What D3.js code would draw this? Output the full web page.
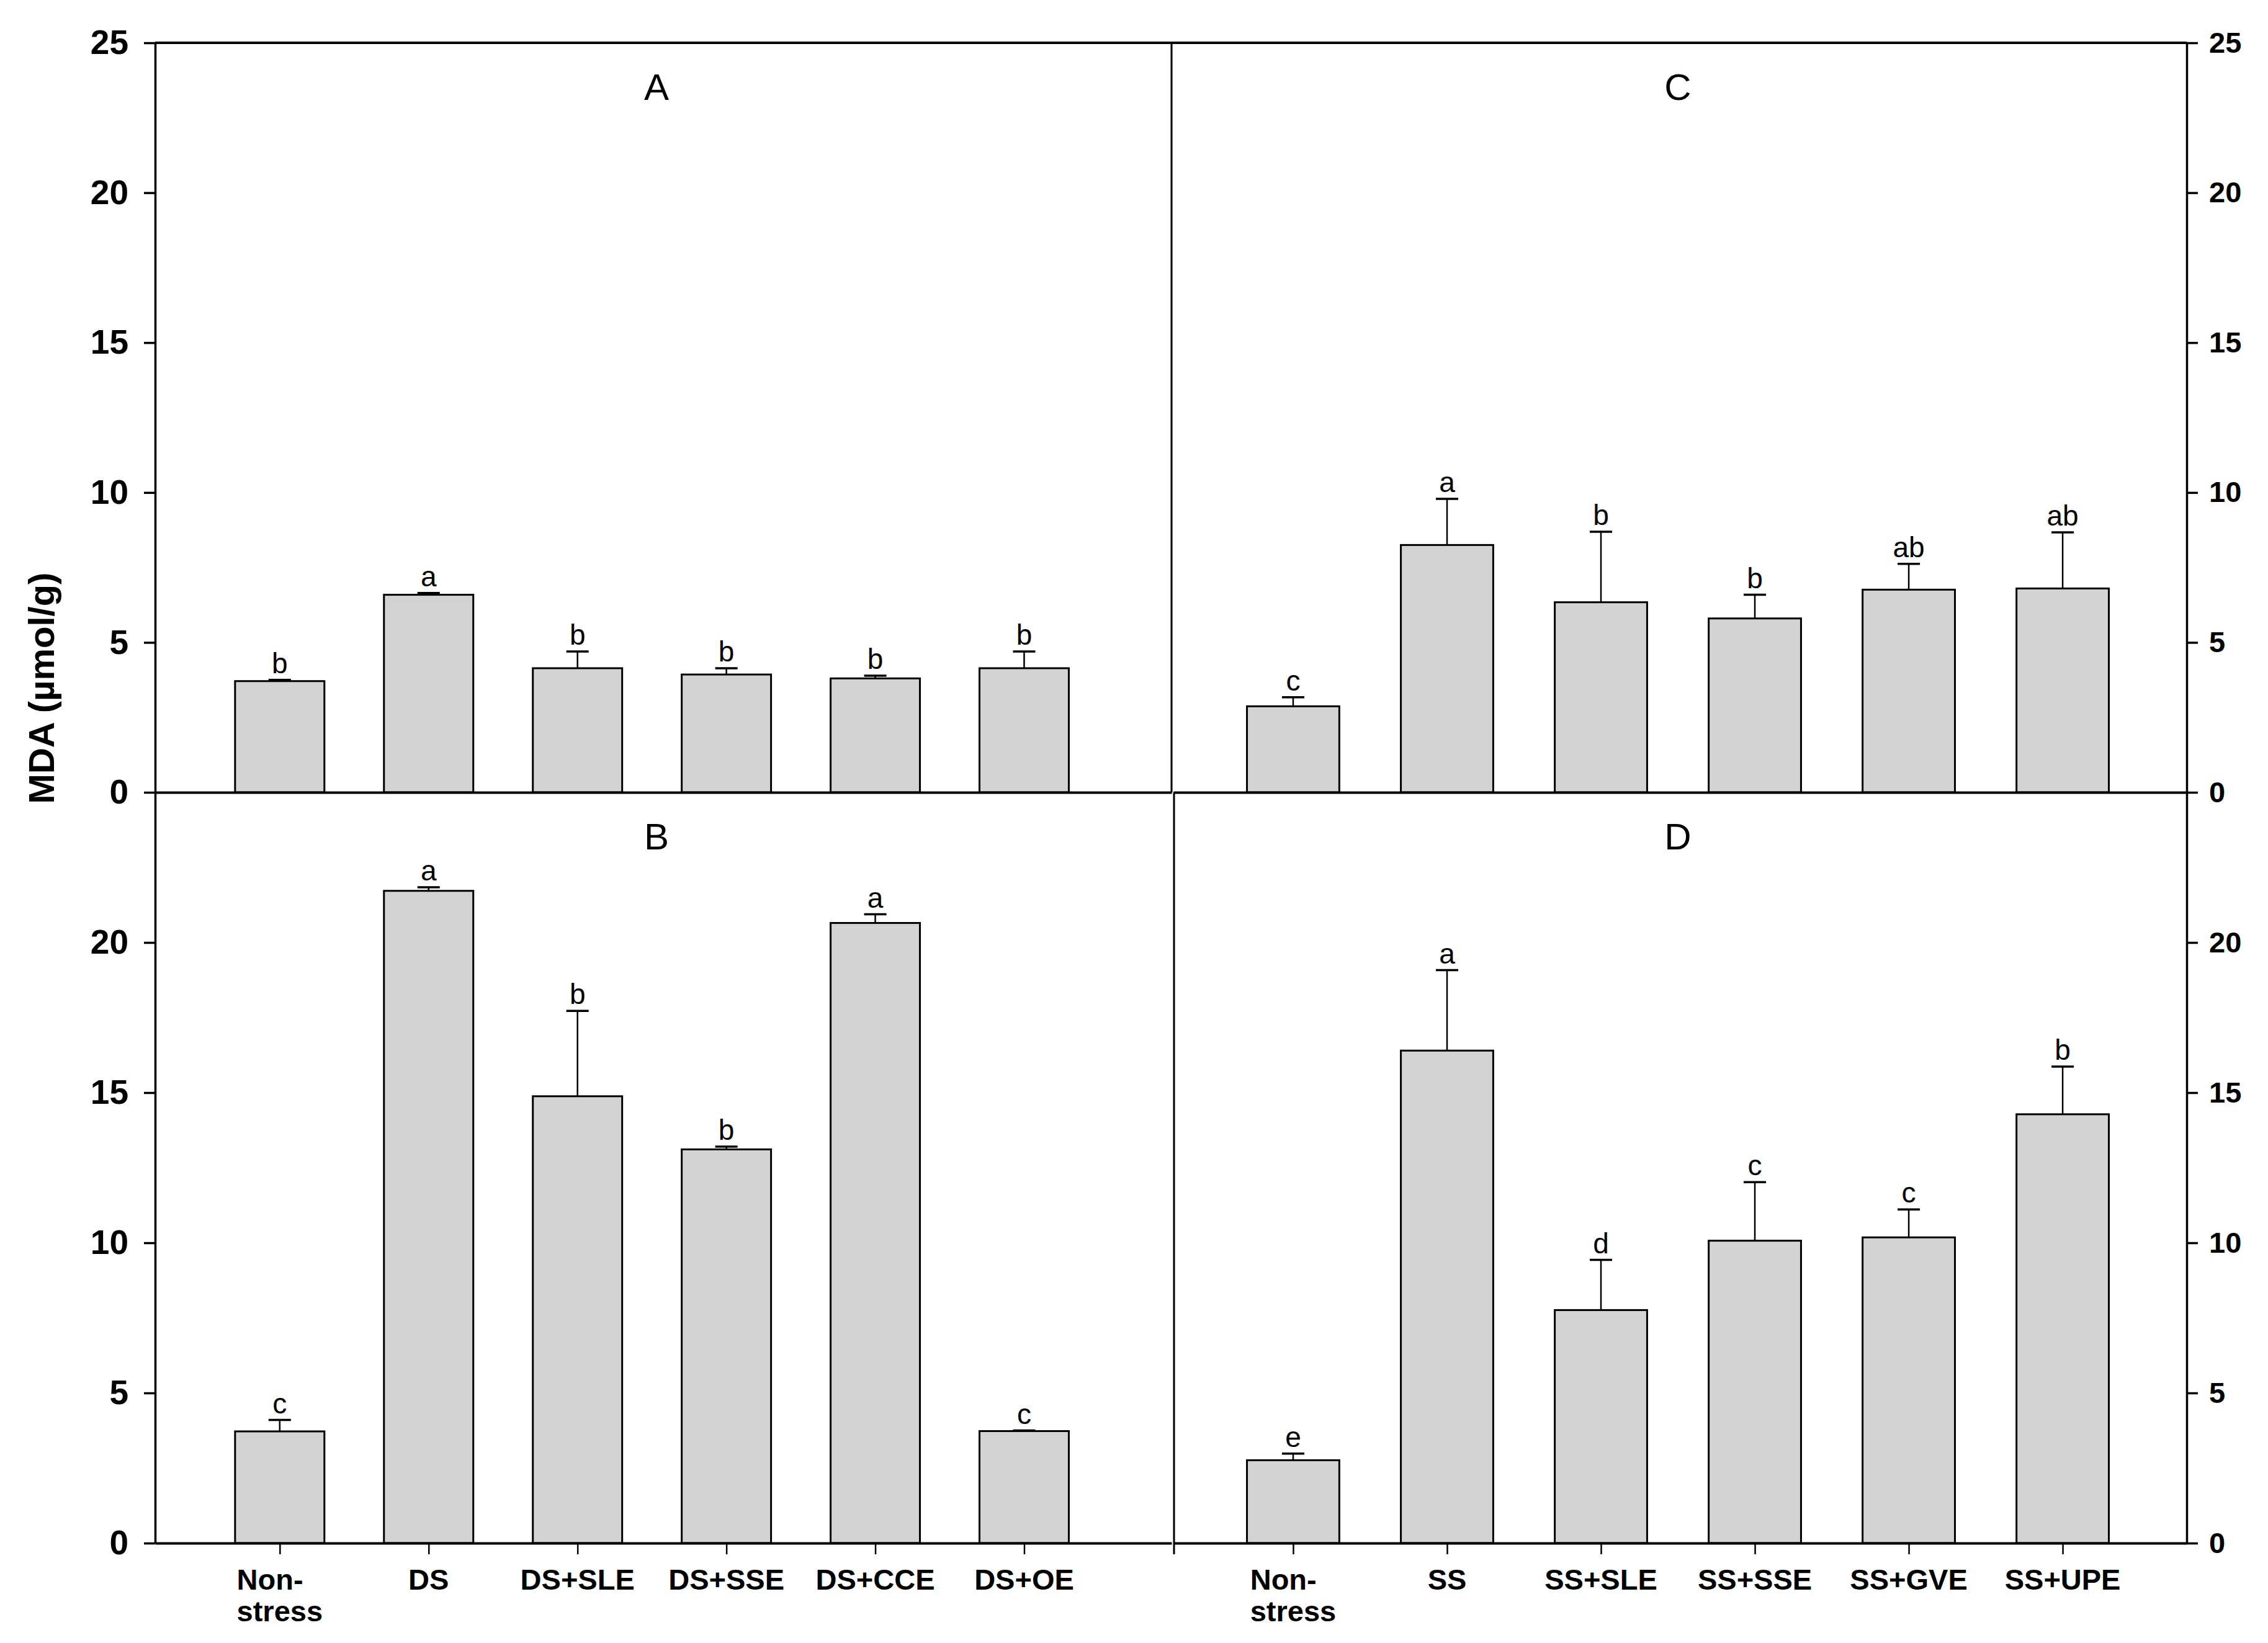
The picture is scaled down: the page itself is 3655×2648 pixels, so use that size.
<!DOCTYPE html>
<html>
<head>
<meta charset="utf-8">
<script src="https://cdn.jsdelivr.net/npm/d3@7"></script>
<style>
  body { margin: 0; background: #fff; }
  text { font-family: "Liberation Sans", Arial, sans-serif; fill: #000; }
</style>
</head>
<body>
<script>
// canvas
var width = 3655;
var height = 2648;

// categories
var catsDS = ["Non-stress", "DS", "DS+SLE", "DS+SSE", "DS+CCE", "DS+OE"];
var catsSS = ["Non-stress", "SS", "SS+SLE", "SS+SSE", "SS+GVE", "SS+UPE"];

// panel A (drought, top left)
var meanA = [3.71, 6.59, 4.14, 3.93, 3.80, 4.14];
var errA  = [0.04, 0.06, 0.56, 0.21, 0.09, 0.56];
var letA  = ["b", "a", "b", "b", "b", "b"];

// panel B (drought, bottom left)
var meanB = [3.72, 21.72, 14.88, 13.11, 20.65, 3.73];
var errB  = [0.38, 0.12, 2.84, 0.09, 0.29, 0.02];
var letB  = ["c", "a", "b", "b", "a", "c"];

// panel C (salt, top right)
var meanC = [2.87, 8.25, 6.34, 5.80, 6.76, 6.80];
var errC  = [0.30, 1.54, 2.35, 0.79, 0.86, 1.87];
var letC  = ["c", "a", "b", "b", "ab", "ab"];

// panel D (salt, bottom right)
var meanD = [2.76, 16.40, 7.76, 10.07, 10.18, 14.28];
var errD  = [0.22, 2.68, 1.67, 1.95, 0.93, 1.59];
var letD  = ["e", "a", "d", "c", "c", "b"];

// axis ticks
var yTicksTop = [0, 5, 10, 15, 20, 25];
var yTicksBottom = [0, 5, 10, 15, 20];
var yTitle = "MDA (\u00b5mol/g)";

var font = '"Liberation Sans", Arial, sans-serif';

var svg = d3.select("body").append("svg")
  .attr("width", width)
  .attr("height", height);

svg.append("rect").attr("width", width).attr("height", height).attr("fill", "#fff");

// layout of the 2x2 grid
var xLeft = 250, xMidL = 1888, xMidR = 1891, xRight = 3524;
var yTop = 69, yMid = 1277, yBottom = 2487;

var panels = [
  {name: "A", cats: catsDS, mean: meanA, err: errA, let: letA, side: "left",  row: "top"},
  {name: "B", cats: catsDS, mean: meanB, err: errB, let: letB, side: "left",  row: "bottom"},
  {name: "C", cats: catsSS, mean: meanC, err: errC, let: letC, side: "right", row: "top"},
  {name: "D", cats: catsSS, mean: meanD, err: errD, let: letD, side: "right", row: "bottom"}
];

panels.forEach(function(p) {
  var x0 = p.side === "left" ? xLeft : xMidR;
  var x1 = p.side === "left" ? xMidL : xRight;
  var y0 = p.row === "top" ? yTop : yMid;
  var y1 = p.row === "top" ? yMid : yBottom;

  // sigmaplot-like x positions 1..6
  var x = d3.scaleLinear()
    .domain(p.side === "left" ? [0.163, 6.99] : [0.222, 6.806])
    .range([x0, x1]);
  var y = d3.scaleLinear().domain([0, 25]).range([y1, y0]);
  var barW = x(1.6) - x(1);

  var g = svg.append("g");
  var data = p.cats.map(function(c, i) {
    return {cat: c, i: i + 1, mean: p.mean[i], err: p.err[i], let: p.let[i]};
  });

  // bars
  g.selectAll("rect.bar").data(data).enter().append("rect")
    .attr("class", "bar")
    .attr("x", function(d) { return x(d.i) - barW / 2; })
    .attr("y", function(d) { return y(d.mean); })
    .attr("width", barW)
    .attr("height", function(d) { return y(0) - y(d.mean); })
    .attr("fill", "#d3d3d3")
    .attr("stroke", "#000")
    .attr("stroke-width", 3);

  // error bars (upper only)
  g.selectAll("line.stem").data(data).enter().append("line")
    .attr("x1", function(d) { return x(d.i); })
    .attr("x2", function(d) { return x(d.i); })
    .attr("y1", function(d) { return y(d.mean); })
    .attr("y2", function(d) { return y(d.mean + d.err); })
    .attr("stroke", "#000").attr("stroke-width", 2.5);
  g.selectAll("line.cap").data(data).enter().append("line")
    .attr("x1", function(d) { return x(d.i) - 18; })
    .attr("x2", function(d) { return x(d.i) + 18; })
    .attr("y1", function(d) { return y(d.mean + d.err); })
    .attr("y2", function(d) { return y(d.mean + d.err); })
    .attr("stroke", "#000").attr("stroke-width", 3.5);

  // significance letters
  g.selectAll("text.sig").data(data).enter().append("text")
    .attr("x", function(d) { return x(d.i); })
    .attr("y", function(d) { return y(d.mean + d.err) - 11; })
    .attr("text-anchor", "middle")
    .style("font-size", "46px")
    .text(function(d) { return d.let; });

  // panel letter
  svg.append("text")
    .attr("x", p.side === "left" ? 1058 : 2704)
    .attr("y", y0 + 92)
    .attr("text-anchor", "middle")
    .style("font-size", "60px")
    .text(p.name);

  // y axis on the outer side
  var ticks = p.row === "top" ? yTicksTop : yTicksBottom;
  var yAxis = (p.side === "left" ? d3.axisLeft(y) : d3.axisRight(y))
    .tickValues(ticks)
    .tickSize(18)
    .tickSizeOuter(0)
    .tickPadding(p.side === "left" ? 25 : 18)
    .tickFormat(d3.format("d"));
  var ya = svg.append("g")
    .attr("transform", "translate(" + (p.side === "left" ? x0 : x1) + ",0)")
    .call(yAxis);
  ya.select(".domain").attr("stroke-width", 3.5);
  ya.selectAll(".tick line").attr("stroke-width", 3.5);
  ya.selectAll(".tick text")
    .style("font-family", font)
    .style("font-weight", "bold")
    .style("font-size", p.side === "left" ? "55px" : "47px");

  // x axis
  var xAxis = d3.axisBottom(x)
    .tickValues(p.row === "bottom" ? [1, 2, 3, 4, 5, 6] : [])
    .tickSize(18)
    .tickSizeOuter(0)
    .tickFormat("");
  var xa = svg.append("g")
    .attr("transform", "translate(0," + y1 + ")")
    .call(xAxis);
  xa.select(".domain").attr("stroke-width", 4);
  xa.selectAll(".tick line").attr("stroke-width", 2.5);

  // category labels (two lines for "Non-stress")
  if (p.row === "bottom") {
    data.forEach(function(d) {
      var parts = d.cat.split(/(?<=-)/);
      var t = svg.append("text")
        .style("font-size", "47px")
        .style("font-weight", "bold");
      if (parts.length === 1) {
        t.attr("x", x(d.i)).attr("y", 2562).attr("text-anchor", "middle").text(d.cat);
      } else {
        // second line centered, first line left aligned with it
        var l2 = t.append("tspan").attr("y", 2613).text(parts[1]);
        var w2 = l2.node().getComputedTextLength();
        var sx = x(d.i) - w2 / 2;
        l2.attr("x", sx);
        t.insert("tspan", "tspan").attr("x", sx).attr("y", 2562).text(parts[0]);
      }
    });
  }
});

// frame: top line and panel dividers
svg.append("line")
  .attr("x1", xLeft).attr("x2", xRight)
  .attr("y1", yTop).attr("y2", yTop)
  .attr("stroke", "#000").attr("stroke-width", 4);
svg.append("line")
  .attr("x1", xMidL).attr("x2", xMidL)
  .attr("y1", yTop).attr("y2", yMid)
  .attr("stroke", "#000").attr("stroke-width", 3);
svg.append("line")
  .attr("x1", xMidR + 1).attr("x2", xMidR + 1)
  .attr("y1", yMid).attr("y2", yBottom + 18)
  .attr("stroke", "#000").attr("stroke-width", 3);

// y axis title
svg.append("text")
  .attr("transform", "translate(87,1109) rotate(-90)")
  .attr("text-anchor", "middle")
  .style("font-size", "58px")
  .style("font-weight", "bold")
  .text(yTitle);
</script>
</body>
</html>
